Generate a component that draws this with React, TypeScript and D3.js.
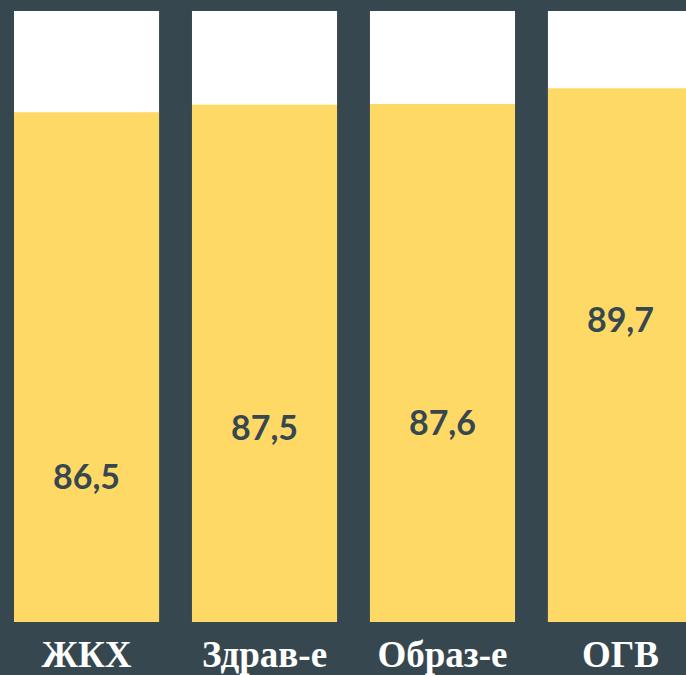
import * as d3 from 'd3';

// Share of positive answers by sector, %
const categories = ['ЖКХ', 'Здрав-е', 'Образ-е', 'ОГВ'];
const values = [86.5, 87.5, 87.6, 89.7];
const valueLabels = ['86,5', '87,5', '87,6', '89,7'];

const width = 686;
const height = 675;
const margin = { top: 11, bottom: 53, left: 14 };

const BG = '#37474F';
const YELLOW = '#FFD966';

export default function App() {
  const x = d3.scaleBand<string>()
    .domain(categories)
    .range([margin.left, 693])
    .paddingInner(0.185)
    .paddingOuter(0);

  // axis is hidden, so the bars start from a truncated baseline
  const yMin = 18.5;
  const y = d3.scaleLinear()
    .domain([yMin, 100])
    .range([height - margin.bottom, margin.top]);

  // value labels sit inside the yellow part, higher for larger values
  const labelY = d3.scaleLinear()
    .domain([83.55, 96])
    .range([height - margin.bottom, margin.top]);

  const bottom = y(yMin);

  return (
    <svg
      width={width}
      height={height}
      style={{ position: 'absolute', left: 0, top: 0, display: 'block' }}
    >
      <rect x={0} y={0} width={width} height={height} fill={BG} />
      {categories.map((c, i) => {
        const bx = x(c)!;
        const bw = x.bandwidth();
        return (
          <g key={c}>
            <rect x={bx} y={y(100)} width={bw} height={bottom - y(100)} fill="#FFFFFF" />
            <rect x={bx} y={y(values[i])} width={bw} height={bottom - y(values[i])} fill={YELLOW} />
            <text
              x={bx + bw / 2}
              y={labelY(values[i])}
              dy="0.35em"
              textAnchor="middle"
              fontFamily="Lato, 'Open Sans', sans-serif"
              fontWeight="bold"
              fontSize={34}
              fill={BG}
            >
              {valueLabels[i]}
            </text>
            <text
              x={bx + bw / 2}
              y={667}
              textAnchor="middle"
              fontFamily="'Liberation Serif', 'Times New Roman', serif"
              fontWeight="bold"
              fontSize={37}
              fill="#FFFFFF"
            >
              {c}
            </text>
          </g>
        );
      })}
    </svg>
  );
}
